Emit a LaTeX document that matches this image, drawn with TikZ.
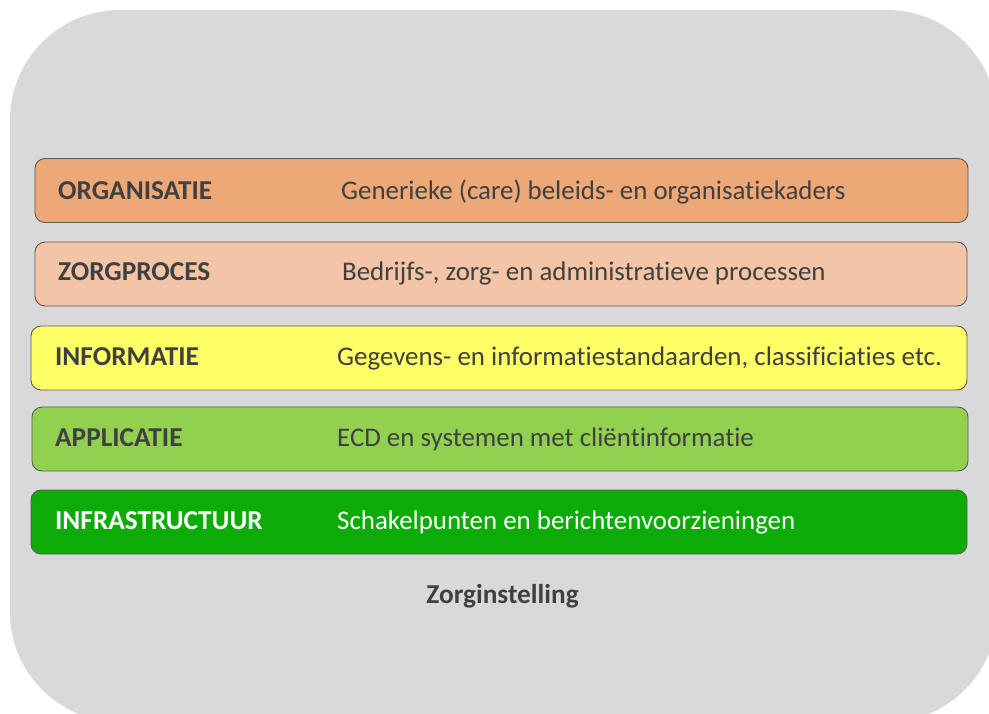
\documentclass[tikz,border=0pt]{standalone}
\usepackage{fontspec}
\setmainfont[Ligatures=NoCommon]{Carlito}
\usepackage{xcolor}
\usetikzlibrary{positioning}

\definecolor{kader}{HTML}{D9D9D9}
\definecolor{tekst}{HTML}{404040}
\definecolor{orgkleur}{HTML}{EDA878}
\definecolor{zorgkleur}{HTML}{F3C5A6}
\definecolor{infokleur}{HTML}{FFFF66}
\definecolor{appkleur}{HTML}{92D050}
\definecolor{infrakleur}{HTML}{0DAB08}

\begin{document}
\begin{tikzpicture}[x=1pt,y=-1pt]
  \tikzstyle{layer}=[rectangle,draw=black!65,line width=0.9pt,rounded corners=10pt,minimum height=64pt,inner sep=0]
  \tikzstyle{title}=[anchor=base west,inner sep=0,font=\fontsize{27.3}{32}\selectfont\bfseries,text=tekst]
  \tikzstyle{descr}=[anchor=base west,inner sep=0,font=\fontsize{26.9}{32}\selectfont,text=tekst]
  \useasboundingbox (0,0) rectangle (989,713);
  \clip (0,0) rectangle (989,713);
  % grijze achtergrond
  \fill[kader,rounded corners=110pt] (10,10) rectangle (997,722);
  % lagen
  \node(org)[layer,fill=orgkleur,minimum width=933pt] at (501.5,190.5) {};
  \node(zorg)[layer,fill=zorgkleur,minimum width=932pt] at (501,274) {};
  \node(info)[layer,fill=infokleur,minimum width=936pt] at (499,358) {};
  \node(app)[layer,fill=appkleur,minimum width=936pt] at (500,439) {};
  \node(infra)[layer,fill=infrakleur,minimum width=936pt] at (499,522) {};
  % teksten
  \node(orgT)[title] at (58,199) {ORGANISATIE};
  \node(orgD)[descr] at (341,199) {Generieke (care) beleids- en organisatiekaders};
  \node(zorgT)[title] at (58,280) {ZORGPROCES};
  \node(zorgD)[descr] at (342,280) {Bedrijfs-, zorg- en administratieve processen};
  \node(infoT)[title] at (55,365) {INFORMATIE};
  \node(infoD)[descr] at (337,365) {Gegevens- en informatiestandaarden, classificiaties etc.};
  \node(appT)[title] at (55,446) {APPLICATIE};
  \node(appD)[descr] at (337,446) {ECD en systemen met cliëntinformatie};
  \node(infraT)[title,text=white] at (55,529) {INFRASTRUCTUUR};
  \node(infraD)[descr,text=white] at (337,529) {Schakelpunten en berichtenvoorzieningen};
  \node(zi)[title,anchor=base] at (502.5,603) {Zorginstelling};
\end{tikzpicture}
\end{document}
